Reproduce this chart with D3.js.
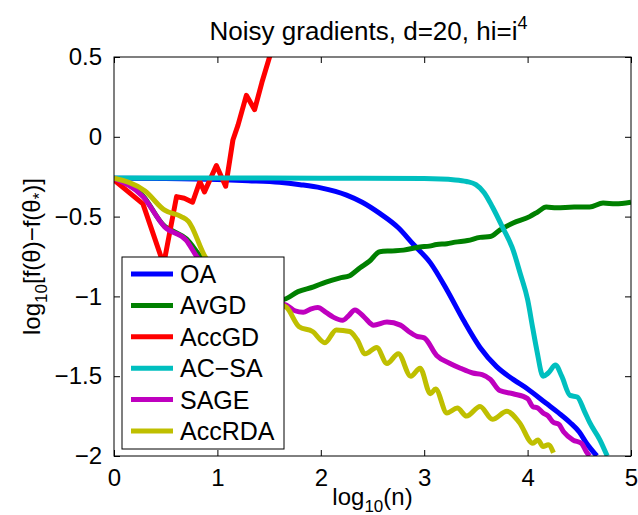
<!DOCTYPE html>
<html>
<head>
<meta charset="utf-8">
<script src="https://cdn.jsdelivr.net/npm/d3@7"></script>
<style>
  body { margin: 0; background: #fff; }
  svg { font-family: "Liberation Sans", Arial, sans-serif; }
</style>
</head>
<body>
<svg width="638" height="515"></svg>
<script>
// series, [log10(n), log10 error]
var OA = [[0,-0.26],[0.5,-0.262],[1,-0.268],[1.3,-0.275],[1.6,-0.285],[1.8,-0.30],[2.0,-0.32],[2.25,-0.365],[2.4,-0.41],[2.57,-0.48],[2.75,-0.57],[2.89,-0.67],[3.06,-0.79],[3.22,-0.96],[3.38,-1.15],[3.54,-1.32],[3.7,-1.44],[3.86,-1.52],[4.0,-1.58],[4.18,-1.67],[4.3,-1.73],[4.41,-1.79],[4.5,-1.85],[4.57,-1.92],[4.67,-2.0]];
var AvGD = [[0,-0.26],[0.28,-0.37],[0.49,-0.56],[0.54,-0.58],[0.7,-0.64],[0.85,-0.76],[1.0,-0.85],[1.2,-0.93],[1.4,-0.99],[1.63,-1.02],[1.78,-0.97],[1.93,-0.94],[2.05,-0.91],[2.18,-0.885],[2.28,-0.87],[2.38,-0.82],[2.47,-0.78],[2.57,-0.72],[2.68,-0.715],[2.80,-0.71],[2.96,-0.69],[3.05,-0.685],[3.12,-0.675],[3.22,-0.67],[3.3,-0.66],[3.42,-0.65],[3.54,-0.63],[3.64,-0.625],[3.73,-0.585],[3.86,-0.54],[4.02,-0.50],[4.1,-0.47],[4.18,-0.44],[4.28,-0.445],[4.45,-0.44],[4.6,-0.44],[4.73,-0.415],[4.85,-0.42],[5,-0.41]];
var AccGD = [[0,-0.27],[0.28,-0.42],[0.48,-0.8],[0.605,-0.375],[0.68,-0.385],[0.76,-0.41],[0.83,-0.28],[0.875,-0.345],[0.99,-0.18],[1.08,-0.31],[1.15,-0.02],[1.20,0.075],[1.28,0.26],[1.36,0.17],[1.43,0.34],[1.50,0.49],[1.56,0.62]];
var ACSA = [[0,-0.258],[1,-0.258],[2,-0.259],[3,-0.262],[3.3,-0.27],[3.41,-0.28],[3.5,-0.30],[3.58,-0.35],[3.66,-0.44],[3.76,-0.57],[3.86,-0.71],[3.93,-0.86],[4.0,-1.02],[4.05,-1.2],[4.09,-1.34],[4.15,-1.50],[4.2,-1.48],[4.27,-1.43],[4.33,-1.5],[4.41,-1.62],[4.48,-1.63],[4.55,-1.72],[4.6,-1.79],[4.7,-1.9],[4.77,-2.0]];
var SAGE = [[0,-0.26],[0.28,-0.375],[0.49,-0.565],[0.7,-0.65],[0.8,-0.75],[1.0,-0.88],[1.3,-0.98],[1.5,-1.03],[1.67,-1.055],[1.75,-1.09],[1.83,-1.10],[1.9,-1.08],[1.97,-1.07],[2.05,-1.10],[2.12,-1.13],[2.21,-1.15],[2.27,-1.12],[2.33,-1.085],[2.42,-1.13],[2.51,-1.18],[2.64,-1.16],[2.77,-1.18],[2.85,-1.22],[2.93,-1.25],[3.0,-1.26],[3.12,-1.37],[3.25,-1.42],[3.35,-1.45],[3.47,-1.48],[3.56,-1.49],[3.64,-1.52],[3.73,-1.59],[3.86,-1.61],[4.0,-1.64],[4.05,-1.69],[4.1,-1.70],[4.15,-1.73],[4.2,-1.75],[4.25,-1.79],[4.3,-1.80],[4.35,-1.85],[4.44,-1.90],[4.52,-1.92],[4.57,-1.975],[4.6,-2.0]];
var AccRDA = [[0,-0.26],[0.3,-0.34],[0.49,-0.46],[0.65,-0.50],[0.72,-0.53],[0.88,-0.75],[1.1,-0.9],[1.4,-1.0],[1.67,-1.07],[1.79,-1.19],[1.92,-1.22],[2.04,-1.29],[2.15,-1.21],[2.28,-1.22],[2.35,-1.27],[2.43,-1.36],[2.54,-1.32],[2.64,-1.42],[2.75,-1.36],[2.87,-1.50],[2.96,-1.45],[3.06,-1.61],[3.11,-1.58],[3.22,-1.73],[3.32,-1.70],[3.41,-1.75],[3.54,-1.69],[3.66,-1.77],[3.80,-1.72],[3.92,-1.79],[4.05,-1.92],[4.1,-1.90],[4.15,-1.94],[4.2,-1.93],[4.25,-1.98]];

var names = ["OA", "AvGD", "AccGD", "AC\u2212SA", "SAGE", "AccRDA"];
var colors = ["#0000ff", "#008000", "#ff0000", "#00bfbf", "#bf00bf", "#bfbf00"];
var series = [OA, AvGD, AccGD, ACSA, SAGE, AccRDA];
var xTicks = [0, 1, 2, 3, 4, 5];
var yTicks = [0.5, 0, -0.5, -1, -1.5, -2];

var pL = 114, pT = 57, pR = 631, pB = 456;
var x = d3.scaleLinear().domain([0, 5]).range([pL, pR]);
var y = d3.scaleLinear().domain([-2, 0.5]).range([pB, pT]);

var svg = d3.select("svg");

svg.append("clipPath").attr("id", "clip")
  .append("rect")
  .attr("x", pL).attr("y", pT)
  .attr("width", pR - pL).attr("height", pB - pT);

var smooth = d3.line().curve(d3.curveMonotoneX)
  .x(function(d) { return x(d[0]); }).y(function(d) { return y(d[1]); });
var straight = d3.line()
  .x(function(d) { return x(d[0]); }).y(function(d) { return y(d[1]); });

// AccGD has sharp corners, the rest are smooth
svg.append("g").attr("clip-path", "url(#clip)")
  .selectAll("path").data(series).enter().append("path")
  .attr("d", function(d) { return d === AccGD ? straight(d) : smooth(d); })
  .attr("fill", "none")
  .attr("stroke", function(d, i) { return colors[i]; })
  .attr("stroke-width", 5)
  .attr("stroke-linejoin", "round");

// axes, MATLAB style: ticks inside, on all four sides
var fmt = function(d) { return String(d).replace("-", "\u2212"); };
svg.append("g").attr("transform", "translate(0," + pB + ")")
  .call(d3.axisBottom(x).tickValues(xTicks).tickSizeInner(-6).tickSizeOuter(0).tickPadding(13).tickFormat(fmt));
svg.append("g").attr("transform", "translate(0," + pT + ")")
  .call(d3.axisTop(x).tickValues(xTicks).tickSizeInner(-6).tickSizeOuter(0).tickFormat(""));
svg.append("g").attr("transform", "translate(" + pL + ",0)")
  .call(d3.axisLeft(y).tickValues(yTicks).tickSizeInner(-6).tickSizeOuter(0).tickPadding(12).tickFormat(fmt));
svg.append("g").attr("transform", "translate(" + pR + ",0)")
  .call(d3.axisRight(y).tickValues(yTicks).tickSizeInner(-6).tickSizeOuter(0).tickFormat(""));

svg.selectAll(".tick text").attr("font-size", 24).attr("fill", "#000").attr("font-family", "Liberation Sans, Arial, sans-serif");
svg.selectAll(".domain").remove();
svg.selectAll(".tick line").attr("stroke", "#000");

svg.append("rect")
  .attr("x", pL).attr("y", pT)
  .attr("width", pR - pL).attr("height", pB - pT)
  .attr("fill", "none").attr("stroke", "#000").attr("stroke-width", 1);

// title
var title = svg.append("text")
  .attr("x", (pL + pR) / 2 - 4).attr("y", 40)
  .attr("text-anchor", "middle").attr("font-size", 26);
title.append("tspan").text("Noisy gradients, d=20, hi=i");
title.append("tspan").attr("font-size", 18).attr("dy", -11).text("4");

// x label
var xl = svg.append("text")
  .attr("x", (pL + pR) / 2).attr("y", 505)
  .attr("text-anchor", "middle").attr("font-size", 24);
xl.append("tspan").text("log");
xl.append("tspan").attr("font-size", 17).attr("dy", 7).text("10");
xl.append("tspan").attr("dy", -7).text("(n)");

// y label
var yl = svg.append("text")
  .attr("transform", "translate(40," + ((pT + pB) / 2) + ") rotate(-90)")
  .attr("text-anchor", "middle").attr("font-size", 24);
yl.append("tspan").text("log");
yl.append("tspan").attr("font-size", 17).attr("dy", 7).text("10");
yl.append("tspan").attr("dy", -7).text("[f(\u03b8)\u2212f(\u03b8");
yl.append("tspan").attr("font-size", 17).attr("dy", 5).text("*");
yl.append("tspan").attr("dy", -5).text(")]");

// legend
var legend = svg.append("g");
legend.append("rect")
  .attr("x", 122).attr("y", 257).attr("width", 162).attr("height", 192)
  .attr("fill", "#fff").attr("stroke", "#000").attr("stroke-width", 1);
var rows = legend.selectAll("g.row").data(names).enter().append("g")
  .attr("transform", function(d, i) { return "translate(0," + (274 + i * 31.4) + ")"; });
rows.append("line")
  .attr("x1", 131).attr("x2", 173)
  .attr("stroke", function(d, i) { return colors[i]; })
  .attr("stroke-width", 5);
rows.append("text")
  .attr("x", 180).attr("dy", "0.36em")
  .attr("font-size", 25)
  .text(function(d) { return d; });
</script>
</body>
</html>
